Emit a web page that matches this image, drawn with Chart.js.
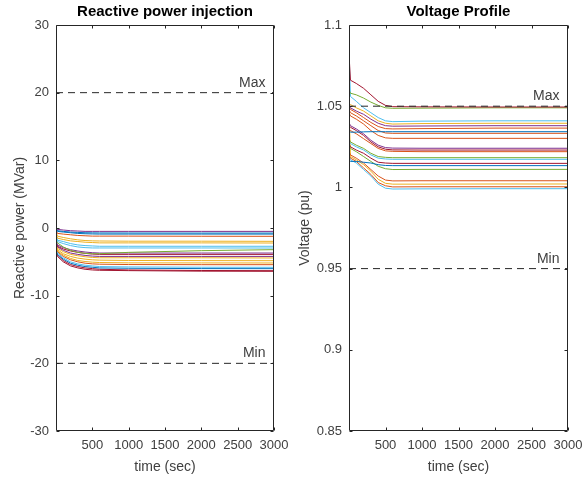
<!DOCTYPE html>
<html>
<head>
<meta charset="utf-8">
<script src="https://cdn.jsdelivr.net/npm/chart.js@4"></script>
<style>
  html, body { margin: 0; padding: 0; background: #fff; }
  #wrap { position: relative; width: 583px; height: 479px; }
  #qc { position: absolute; left: 0; top: 0; }
  #vc { position: absolute; left: 291px; top: 0; }
</style>
</head>
<body>
<div id="wrap">
  <canvas id="qc" width="291" height="479"></canvas>
  <canvas id="vc" width="292" height="479"></canvas>
</div>
<script>
// time samples (sec) shared by every trace
const timeSec = [0, 20, 100, 200, 300, 400, 500, 600, 1000, 2000, 3000];
const xTicks = [500, 1000, 1500, 2000, 2500, 3000];
const qTicks = [-30, -20, -10, 0, 10, 20, 30];
const vTicks = [0.85, 0.9, 0.95, 1, 1.05, 1.1];
const limitNames = ['Max', 'Min'];
const qLimits = [20, -20];
const vLimits = [1.05, 0.95];

// reactive power injection (MVar)
const q01 = [0.2, -0.2, -0.3, -0.4, -0.45, -0.5, -0.5, -0.5, -0.5, -0.5, -0.5];
const q02 = [0.1, -0.4, -0.5, -0.6, -0.65, -0.7, -0.72, -0.73, -0.74, -0.75, -0.75];
const q03 = [0, -0.5, -0.6, -0.7, -0.8, -0.85, -0.88, -0.9, -0.9, -0.9, -0.9];
const q04 = [-0.3, -0.8, -0.9, -1.0, -1.1, -1.15, -1.2, -1.2, -1.2, -1.22, -1.23];
const q05 = [-0.5, -1.2, -1.4, -1.6, -1.75, -1.85, -1.9, -1.92, -1.95, -1.95, -1.97];
const q06 = [-0.8, -1.5, -1.7, -1.9, -2.0, -2.1, -2.15, -2.2, -2.2, -2.2, -2.22];
const q07 = [-1.0, -1.8, -2.0, -2.3, -2.5, -2.6, -2.65, -2.7, -2.7, -2.7, -2.7];
const q08 = [-1.2, -2.0, -2.3, -2.6, -2.8, -2.9, -2.95, -2.95, -2.95, -2.95, -2.96];
const q09 = [-1.5, -2.2, -2.8, -3.3, -3.6, -3.75, -3.8, -3.8, -3.6, -3.35, -3.2];
const q10 = [-1.8, -2.5, -2.9, -3.2, -3.4, -3.55, -3.65, -3.7, -3.7, -3.7, -3.7];
const q11 = [-2.0, -2.7, -3.1, -3.4, -3.6, -3.75, -3.85, -3.9, -3.9, -3.9, -3.9];
const q12 = [-2.2, -2.8, -3.3, -3.7, -3.9, -4.05, -4.15, -4.2, -4.2, -4.2, -4.2];
const q13 = [-2.0, -3.0, -3.5, -3.9, -4.1, -4.25, -4.35, -4.4, -4.4, -4.4, -4.43];
const q14 = [-2.2, -3.2, -3.8, -4.2, -4.45, -4.6, -4.7, -4.75, -4.8, -4.82, -4.83];
const q15 = [-2.5, -3.4, -4.0, -4.5, -4.8, -4.95, -5.05, -5.1, -5.15, -5.16, -5.17];
const q16 = [-2.4, -3.5, -4.2, -4.7, -5.0, -5.2, -5.3, -5.35, -5.4, -5.42, -5.42];
const q17 = [-2.6, -3.7, -4.4, -5.0, -5.3, -5.5, -5.6, -5.7, -5.75, -5.8, -5.81];
const q18 = [-2.8, -3.9, -4.6, -5.2, -5.5, -5.7, -5.8, -5.9, -5.95, -6.0, -6.01];
const q19 = [-3.0, -4.0, -4.8, -5.4, -5.7, -5.9, -6.0, -6.1, -6.2, -6.28, -6.31];
const q20 = [-3.2, -4.2, -5.0, -5.6, -5.9, -6.1, -6.2, -6.25, -6.3, -6.38, -6.4];

// bus voltage (pu)
const v01 = [1.082, 1.066, 1.064, 1.061, 1.057, 1.053, 1.0505, 1.0497, 1.0496, 1.0495, 1.0495];
const v02 = [1.06, 1.058, 1.057, 1.055, 1.0525, 1.0505, 1.049, 1.0487, 1.0488, 1.049, 1.049];
const v03 = [1.084, 1.056, 1.053, 1.049, 1.046, 1.043, 1.041, 1.0405, 1.0408, 1.041, 1.041];
const v04 = [1.052, 1.051, 1.049, 1.047, 1.044, 1.041, 1.0395, 1.039, 1.0393, 1.0395, 1.0395];
const v05 = [1.05, 1.049, 1.047, 1.045, 1.042, 1.0395, 1.038, 1.0377, 1.0378, 1.038, 1.038];
const v06 = [1.05, 1.048, 1.046, 1.043, 1.040, 1.0375, 1.0362, 1.036, 1.0362, 1.0365, 1.0365];
const v07 = [1.035, 1.034, 1.034, 1.0342, 1.0343, 1.0343, 1.0343, 1.0343, 1.0343, 1.0343, 1.0343];
const v08 = [1.048, 1.046, 1.044, 1.041, 1.038, 1.035, 1.0335, 1.0333, 1.0333, 1.0333, 1.0333];
const v09 = [1.046, 1.044, 1.042, 1.039, 1.035, 1.032, 1.0305, 1.0302, 1.0302, 1.0302, 1.0302];
const v10 = [1.04, 1.038, 1.036, 1.033, 1.029, 1.026, 1.0245, 1.0242, 1.0241, 1.0241, 1.0241];
const v11 = [1.038, 1.037, 1.035, 1.032, 1.028, 1.025, 1.0235, 1.0231, 1.023, 1.023, 1.023];
const v12 = [1.036, 1.035, 1.033, 1.030, 1.027, 1.024, 1.0225, 1.0222, 1.022, 1.022, 1.022];
const v13 = [1.03, 1.028, 1.026, 1.024, 1.021, 1.019, 1.0185, 1.0183, 1.0183, 1.0183, 1.0183];
const v14 = [1.029, 1.027, 1.025, 1.023, 1.020, 1.018, 1.0175, 1.0173, 1.0173, 1.0173, 1.0173];
const v15 = [1.027, 1.025, 1.023, 1.021, 1.018, 1.0155, 1.015, 1.0148, 1.0148, 1.0148, 1.0148];
const v16 = [1.017, 1.016, 1.016, 1.0155, 1.015, 1.014, 1.0135, 1.0134, 1.0134, 1.0134, 1.0134];
const v17 = [1.026, 1.024, 1.022, 1.019, 1.016, 1.013, 1.0115, 1.011, 1.0111, 1.0111, 1.0111];
const v18 = [1.022, 1.020, 1.018, 1.015, 1.011, 1.007, 1.0045, 1.004, 1.0041, 1.0041, 1.0041];
const v19 = [1.05, 1.019, 1.017, 1.014, 1.010, 1.005, 1.0025, 1.002, 1.002, 1.0021, 1.0021];
const v20 = [1.02, 1.018, 1.016, 1.012, 1.008, 1.003, 1.001, 1.0003, 1.0004, 1.0004, 1.0004];
const v21 = [1.02, 1.017, 1.015, 1.011, 1.007, 1.002, 0.9995, 0.999, 0.9991, 0.9992, 0.9992];

const qSeries = [q01, q02, q03, q04, q05, q06, q07, q08, q09, q10, q11, q12, q13, q14, q15, q16, q17, q18, q19, q20];
const vSeries = [v01, v02, v03, v04, v05, v06, v07, v08, v09, v10, v11, v12, v13, v14, v15, v16, v17, v18, v19, v20, v21];

// matlab default line colours
const BL = '#0072BD', OR = '#D95319', YE = '#EDB120', PU = '#7E2F8E', GR = '#77AC30', LB = '#4DBEEE', DR = '#A2142F';
const qColors = [PU, BL, BL, OR, YE, YE, LB, LB, GR, PU, DR, PU, YE, YE, YE, OR, LB, BL, DR, DR];
const vColors = [DR, GR, LB, YE, PU, OR, BL, OR, OR, PU, DR, OR, GR, LB, DR, BL, GR, OR, YE, OR, LB];

Chart.defaults.font.family = '"Liberation Sans", Arial, Helvetica, sans-serif';
const AX = '#262626';
const TXT = '#404040';

// box + inward ticks + Max/Min captions, matlab style
const matlabBox = {
  id: 'matlabBox',
  afterDatasetsDraw(chart, args, opts) {
    const { ctx, chartArea: a, scales: { x, y } } = chart;
    const L = Math.round(a.left) + 0.5, R = Math.round(a.right) - 0.5;
    const T = Math.round(a.top) + 0.5, B = Math.round(a.bottom) - 0.5;
    ctx.save();
    ctx.strokeStyle = AX;
    ctx.lineWidth = 1;
    ctx.beginPath();
    ctx.rect(L, T, R - L, B - T);
    x.ticks.forEach(t => {
      const px = Math.round(x.getPixelForValue(t.value)) + 0.5;
      ctx.moveTo(px, B); ctx.lineTo(px, B - 3);
      ctx.moveTo(px, T); ctx.lineTo(px, T + 3);
    });
    y.ticks.forEach(t => {
      const py = Math.round(y.getPixelForValue(t.value)) + 0.5;
      ctx.moveTo(L, py); ctx.lineTo(L + 3, py);
      ctx.moveTo(R, py); ctx.lineTo(R - 3, py);
    });
    ctx.stroke();
    ctx.fillStyle = TXT;
    ctx.font = '14px "Liberation Sans", Arial, sans-serif';
    ctx.textAlign = 'right';
    ctx.textBaseline = 'alphabetic';
    opts.limits.forEach((v, i) => {
      ctx.fillText(limitNames[i], R - 8, y.getPixelForValue(v) - 6);
    });
    ctx.restore();
  }
};

function makeChart(id, series, colors, limits, yTicks, yMin, yMax, title, yTitle, yWidth, rightPad, yTitlePad) {
  const datasets = [];
  limits.forEach(v => {
    datasets.push({
      data: [{ x: 0, y: v }, { x: 3000, y: v }],
      borderColor: AX, borderWidth: 1, borderDash: [7, 5]
    });
  });
  series.forEach((s, i) => {
    datasets.push({
      data: timeSec.map((t, k) => ({ x: t, y: s[k] })),
      borderColor: colors[i], borderWidth: 1
    });
  });
  return new Chart(document.getElementById(id), {
    type: 'line',
    data: { datasets },
    options: {
      responsive: false,
      animation: false,
      layout: { padding: { left: 0, right: rightPad, top: 0, bottom: 0 } },
      elements: { point: { radius: 0 }, line: { tension: 0 } },
      plugins: {
        legend: { display: false },
        tooltip: { enabled: false },
        title: {
          display: true, text: title, color: '#000', fullSize: false,
          font: { size: 15, weight: 'bold' }, padding: { top: 3, bottom: 4 }
        },
        matlabBox: { limits }
      },
      scales: {
        x: {
          type: 'linear', min: 0, max: 3000,
          afterBuildTicks: s => { s.ticks = xTicks.map(v => ({ value: v })); },
          afterFit: s => { s.height = 48; s.paddingLeft = 0; s.paddingRight = 0; },
          grid: { display: false, drawTicks: false },
          border: { display: false },
          ticks: { color: TXT, font: { size: 13 }, padding: 7, maxRotation: 0, autoSkip: false, callback: v => String(v) },
          title: { display: true, text: 'time (sec)', color: TXT, font: { size: 14 }, padding: { top: 0, bottom: 3 } }
        },
        y: {
          type: 'linear', min: yMin, max: yMax,
          afterBuildTicks: s => { s.ticks = yTicks.map(v => ({ value: v })); },
          afterFit: s => { s.width = yWidth; s.paddingTop = 0; s.paddingBottom = 0; },
          grid: { display: false, drawTicks: false },
          border: { display: false },
          ticks: { color: TXT, font: { size: 13 }, padding: 7, autoSkip: false, callback: v => String(v) },
          title: { display: true, text: yTitle, color: TXT, font: { size: 14 }, padding: { top: yTitlePad, bottom: 0 } }
        }
      }
    },
    plugins: [matlabBox]
  });
}

makeChart('qc', qSeries, qColors, qLimits, qTicks, -30, 30,
  'Reactive power injection', 'Reactive power (MVar)', 56, 17, 12);
makeChart('vc', vSeries, vColors, vLimits, vTicks, 0.85, 1.1,
  'Voltage Profile', 'Voltage (pu)', 58, 15, 6);
</script>
</body>
</html>
